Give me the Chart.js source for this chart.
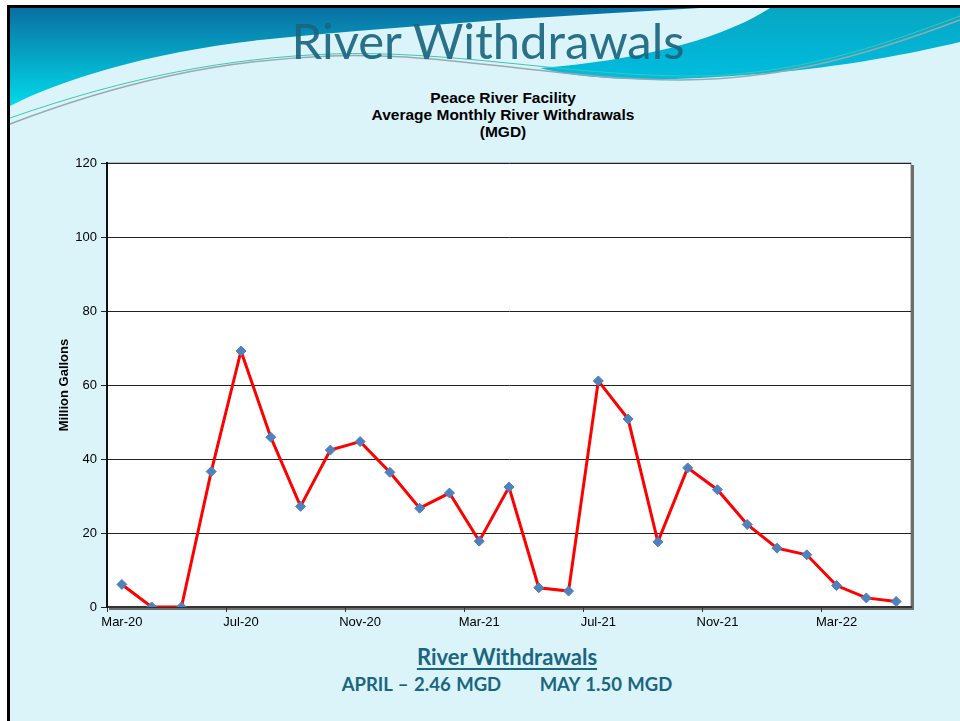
<!DOCTYPE html>
<html>
<head>
<meta charset="utf-8">
<script src="https://cdn.jsdelivr.net/npm/chart.js@4"></script>
<style>
  html, body { margin: 0; padding: 0; }
  body { width: 960px; height: 721px; position: relative; overflow: hidden; background: #fff; }
  #slide { position: absolute; left: 7px; top: 5px; width: 953px; height: 716px;
    background: #dbf4f9; border-left: 3px solid #000; border-top: 3px solid #000; box-sizing: border-box; }
  #deco { position: absolute; left: 0; top: 0; }
  #slideTitle { position: absolute; left: 0; top: 11px; width: 976px; text-align: center;
    font-family: Lato, "Open Sans", sans-serif; font-weight: 400; font-size: 49px; color: #1a6580; opacity: 0.92; }
  #chartTitle { position: absolute; left: 0; top: 89px; width: 1006px; text-align: center;
    font-family: "Liberation Sans", Arial, sans-serif; font-weight: bold; font-size: 15.5px; line-height: 17px; color: #000; }
  #notes { position: absolute; left: 0; top: 643px; width: 1014px; text-align: center;
    font-family: Lato, "Open Sans", sans-serif; font-weight: bold; color: #1a6680; }
  #notes .h { font-size: 22px; text-decoration: underline; text-underline-offset: 3px; line-height: 28px; }
  #notes .v { font-size: 18.5px; line-height: 26px; word-spacing: 1px; }
  canvas#chart { position: absolute; left: 0; top: 0; }
</style>
</head>
<body>
<div id="slide"></div>
<svg id="deco" width="960" height="200" viewBox="0 0 960 200">
  <defs>
    <linearGradient id="gL" x1="0" y1="0" x2="0" y2="1">
      <stop offset="0" stop-color="#0a6fa2"/>
      <stop offset="1" stop-color="#00dbe9"/>
    </linearGradient>
    <linearGradient id="gR" x1="0" y1="0" x2="0" y2="1">
      <stop offset="0" stop-color="#07a6c2"/>
      <stop offset="1" stop-color="#00bde0"/>
    </linearGradient>
  </defs>
  <path d="M10,8 H700 C560,16 420,24 260,40 C150,52 60,80 10,106 Z" fill="url(#gL)"/>
  <path d="M770,8 H960 V42 C900,56 820,72 700,78 C620,82 570,76 540,68 C640,60 720,40 770,8 Z" fill="url(#gR)"/>
  <path d="M10,124 C120,82 220,60 330,56 C450,52 560,80 680,80 C790,80 880,50 960,20" fill="none" stroke="#9aa8b0" stroke-width="1.5"/>
  <path d="M10,118 C130,76 230,58 330,54 C450,50 560,74 680,76 C790,78 880,46 960,16" fill="none" stroke="#3cc8b0" stroke-width="1"/>
</svg>
<div id="slideTitle">River Withdrawals</div>
<div id="chartTitle">Peace River Facility<br>Average Monthly River Withdrawals<br>(MGD)</div>
<div id="notes">
  <div class="h">River Withdrawals</div>
  <div class="v">APRIL &ndash; 2.46 MGD&nbsp;&nbsp;&nbsp;&nbsp;&nbsp;&nbsp;&nbsp;MAY 1.50 MGD</div>
</div>
<canvas id="chart" width="960" height="721"></canvas>
<script>
const months = [
  "Mar-20", "Apr-20", "May-20", "Jun-20", "Jul-20", "Aug-20", "Sep-20", "Oct-20", "Nov-20",
  "Dec-20", "Jan-21", "Feb-21", "Mar-21", "Apr-21", "May-21", "Jun-21", "Jul-21", "Aug-21",
  "Sep-21", "Oct-21", "Nov-21", "Dec-21", "Jan-22", "Feb-22", "Mar-22", "Apr-22", "May-22",
];
const withdrawals = [
  6.1, 0, 0, 36.6, 69.2, 45.9, 27.2, 42.4, 44.7,
  36.4, 26.7, 30.8, 17.8, 32.4, 5.2, 4.3, 61.1, 50.8,
  17.6, 37.6, 31.7, 22.3, 15.9, 14.1, 5.8, 2.46, 1.5,
];
const yTicks = [0, 20, 40, 60, 80, 100, 120];

const FONT = "'Liberation Sans', Arial, sans-serif";

// white plot area with the grey frame excel puts round it
const plotArea = {
  id: "plotArea",
  beforeDraw(chart) {
    const { ctx, chartArea: a } = chart;
    ctx.save();
    ctx.fillStyle = "#ffffff";
    ctx.fillRect(a.left, a.top, a.right - a.left, a.bottom - a.top);
    ctx.strokeStyle = "#8a8a8a";
    ctx.lineWidth = 1;
    ctx.strokeRect(a.left, a.top, a.right - a.left, a.bottom - a.top);
    ctx.strokeStyle = "#6e6e6e";
    ctx.lineWidth = 3;
    ctx.beginPath();
    ctx.moveTo(a.right + 1.5, a.top + 2);
    ctx.lineTo(a.right + 1.5, a.bottom + 1.5);
    ctx.lineTo(a.left + 2, a.bottom + 1.5);
    ctx.stroke();
    ctx.restore();
  },
};

new Chart(document.getElementById("chart"), {
  type: "line",
  data: {
    labels: months,
    datasets: [
      {
        label: "Withdrawals",
        data: withdrawals,
        borderColor: "#ff0000",
        borderWidth: 3,
        pointStyle: "rectRot",
        pointRadius: 5,
        pointBackgroundColor: "#4f81bd",
        pointBorderColor: "#4f81bd",
        pointBorderWidth: 1,
        tension: 0,
        fill: false,
      },
    ],
  },
  options: {
    responsive: false,
    animation: false,
    layout: { padding: { left: 57, right: 49, top: 163, bottom: 84 } },
    plugins: { legend: { display: false }, tooltip: { enabled: false } },
    scales: {
      x: {
        offset: true,
        afterFit: (s) => { s.height = 30; },
        grid: {
          offset: true,
          drawOnChartArea: false,
          tickLength: 5,
          color: (c) => (c.index % 4 === 0 ? "#333" : "rgba(0,0,0,0)"),
        },
        border: { color: "#333", width: 2 },
        ticks: {
          autoSkip: false,
          maxRotation: 0,
          padding: 3,
          color: "#000",
          font: { family: FONT, size: 13 },
          callback: (v, i) => (i % 4 === 0 ? months[i] : ""),
        },
      },
      y: {
        min: 0,
        max: 120,
        afterFit: (s) => { s.width = 50; },
        afterBuildTicks: (s) => { s.ticks = yTicks.map((v) => ({ value: v })); },
        title: {
          display: true,
          text: "Million Gallons",
          color: "#000",
          padding: { top: 0, bottom: 5 },
          font: { family: FONT, size: 13, weight: "bold" },
        },
        grid: { color: "#222", lineWidth: 1, tickLength: 6 },
        border: { color: "#111", width: 2 },
        ticks: {
          padding: 4,
          color: "#000",
          font: { family: FONT, size: 13 },
        },
      },
    },
  },
  plugins: [plotArea],
});
</script>
</body>
</html>
